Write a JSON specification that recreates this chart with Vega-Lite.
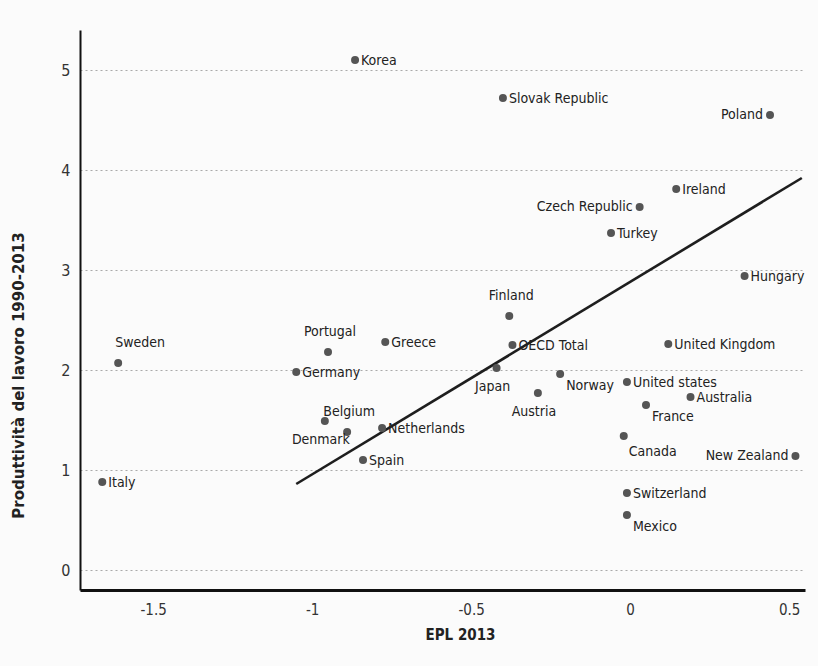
{
  "$schema": "https://vega.github.io/schema/vega-lite/v6.json",
  "autosize": {"type": "none"},
  "width": 725,
  "height": 560,
  "padding": {"left": 80, "top": 30, "right": 13, "bottom": 76},
  "background": "#fbfbfb",
  "config": {
    "view": {"stroke": null},
    "font": "DejaVu Sans Condensed, Liberation Sans Narrow, sans-serif",
    "text": {"font": "DejaVu Sans Condensed, Liberation Sans Narrow, sans-serif"}
  },
  "datasets": {
    "pts": [
      {"country": "Korea", "epl": -0.865, "prod": 5.1},
      {"country": "Slovak Republic", "epl": -0.4, "prod": 4.72},
      {"country": "Poland", "epl": 0.44, "prod": 4.55},
      {"country": "Ireland", "epl": 0.145, "prod": 3.81},
      {"country": "Czech Republic", "epl": 0.03, "prod": 3.63},
      {"country": "Turkey", "epl": -0.06, "prod": 3.37},
      {"country": "Hungary", "epl": 0.36, "prod": 2.94},
      {"country": "Finland", "epl": -0.38, "prod": 2.54},
      {"country": "OECD Total", "epl": -0.37, "prod": 2.25},
      {"country": "United Kingdom", "epl": 0.12, "prod": 2.26},
      {"country": "Portugal", "epl": -0.95, "prod": 2.18},
      {"country": "Greece", "epl": -0.77, "prod": 2.28},
      {"country": "Sweden", "epl": -1.61, "prod": 2.07},
      {"country": "Germany", "epl": -1.05, "prod": 1.98},
      {"country": "Japan", "epl": -0.42, "prod": 2.02},
      {"country": "Norway", "epl": -0.22, "prod": 1.96},
      {"country": "Austria", "epl": -0.29, "prod": 1.77},
      {"country": "United states", "epl": -0.01, "prod": 1.88},
      {"country": "France", "epl": 0.05, "prod": 1.65},
      {"country": "Australia", "epl": 0.19, "prod": 1.73},
      {"country": "Denmark", "epl": -0.96, "prod": 1.49},
      {"country": "Belgium", "epl": -0.89, "prod": 1.38},
      {"country": "Netherlands", "epl": -0.78, "prod": 1.42},
      {"country": "Spain", "epl": -0.84, "prod": 1.1},
      {"country": "Canada", "epl": -0.02, "prod": 1.34},
      {"country": "New Zealand", "epl": 0.52, "prod": 1.14},
      {"country": "Switzerland", "epl": -0.01, "prod": 0.77},
      {"country": "Mexico", "epl": -0.01, "prod": 0.55},
      {"country": "Italy", "epl": -1.66, "prod": 0.88}
    ],
    "fit": [
      {"epl": -1.05, "prod": 0.86},
      {"epl": 0.54, "prod": 3.92}
    ]
  },
  "layer": [
    {
      "data": {"name": "fit"},
      "mark": {"type": "line", "color": "#1e1e1e", "strokeWidth": 2.6},
      "encoding": {
        "x": {
          "field": "epl", "type": "quantitative",
          "scale": {"domain": [-1.73, 0.55], "nice": false, "zero": false},
          "axis": {
            "title": "EPL 2013", "values": [-1.5, -1, -0.5, 0, 0.5],
            "labelExpr": "replace(format(datum.value, '~g'), '−', '-')",
            "grid": false, "ticks": false, "domainColor": "#111", "domainWidth": 3,
            "labelFontSize": 15, "labelColor": "#333", "labelPadding": 12,
            "titleFontSize": 15, "titleColor": "#222", "titleFontWeight": "bold", "titlePadding": 10,
            "titleX": 380,
            "labelFont": "DejaVu Sans Condensed, sans-serif",
            "titleFont": "DejaVu Sans Condensed, sans-serif"
          }
        },
        "y": {
          "field": "prod", "type": "quantitative",
          "scale": {"domain": [-0.2, 5.4], "nice": false, "zero": false},
          "axis": {
            "title": "Produttività del lavoro 1990-2013", "values": [0, 1, 2, 3, 4, 5],
            "format": "d",
            "grid": true, "gridDash": [2, 3], "gridColor": "#aaa", "gridWidth": 1.2,
            "ticks": false, "domainColor": "#111", "domainWidth": 2,
            "labelFontSize": 16, "labelColor": "#333", "labelPadding": 10,
            "titleFontSize": 15, "titleColor": "#222", "titleFontWeight": "bold", "titlePadding": 34,
            "titleY": 345,
            "titleFont": "DejaVu Sans, sans-serif",
            "labelFont": "DejaVu Sans Condensed, sans-serif"
          }
        }
      }
    },
    {
      "data": {"name": "pts"},
      "mark": {"type": "circle", "size": 64, "color": "#555", "opacity": 1},
      "encoding": {
        "x": {"field": "epl", "type": "quantitative"},
        "y": {"field": "prod", "type": "quantitative"}
      }
    },
    {
      "data": {"name": "pts"},
      "transform": [{"filter": {"field": "country", "oneOf": ["Korea", "Slovak Republic", "Ireland", "Turkey", "Hungary", "OECD Total", "United Kingdom", "Greece", "Germany", "United states", "Australia", "Netherlands", "Spain", "Switzerland", "Italy"]}}],
      "mark": {"type": "text", "align": "left", "dx": 6, "dy": 1, "fontSize": 14, "color": "#222"},
      "encoding": {
        "x": {"field": "epl", "type": "quantitative"},
        "y": {"field": "prod", "type": "quantitative"},
        "text": {"field": "country"}
      }
    },
    {
      "data": {"name": "pts"},
      "transform": [{"filter": {"field": "country", "oneOf": ["Norway", "France", "Mexico"]}}],
      "mark": {"type": "text", "align": "left", "dx": 6, "dy": 12, "fontSize": 14, "color": "#222"},
      "encoding": {
        "x": {"field": "epl", "type": "quantitative"},
        "y": {"field": "prod", "type": "quantitative"},
        "text": {"field": "country"}
      }
    },
    {
      "data": {"name": "pts"},
      "transform": [{"filter": {"field": "country", "oneOf": ["Canada"]}}],
      "mark": {"type": "text", "align": "left", "dx": 5, "dy": 16, "fontSize": 14, "color": "#222"},
      "encoding": {
        "x": {"field": "epl", "type": "quantitative"},
        "y": {"field": "prod", "type": "quantitative"},
        "text": {"field": "country"}
      }
    },
    {
      "data": {"name": "pts"},
      "transform": [{"filter": {"field": "country", "oneOf": ["Poland", "Czech Republic", "New Zealand"]}}],
      "mark": {"type": "text", "align": "right", "dx": -7, "dy": 0, "fontSize": 14, "color": "#222"},
      "encoding": {
        "x": {"field": "epl", "type": "quantitative"},
        "y": {"field": "prod", "type": "quantitative"},
        "text": {"field": "country"}
      }
    },
    {
      "data": {"name": "pts"},
      "transform": [{"filter": {"field": "country", "oneOf": ["Finland", "Portugal", "Belgium"]}}],
      "mark": {"type": "text", "align": "center", "dx": 2, "dy": -20, "fontSize": 14, "color": "#222"},
      "encoding": {
        "x": {"field": "epl", "type": "quantitative"},
        "y": {"field": "prod", "type": "quantitative"},
        "text": {"field": "country"}
      }
    },
    {
      "data": {"name": "pts"},
      "transform": [{"filter": {"field": "country", "oneOf": ["Sweden"]}}],
      "mark": {"type": "text", "align": "left", "dx": -3, "dy": -20, "fontSize": 14, "color": "#222"},
      "encoding": {
        "x": {"field": "epl", "type": "quantitative"},
        "y": {"field": "prod", "type": "quantitative"},
        "text": {"field": "country"}
      }
    },
    {
      "data": {"name": "pts"},
      "transform": [{"filter": {"field": "country", "oneOf": ["Japan", "Austria", "Denmark"]}}],
      "mark": {"type": "text", "align": "center", "dx": -4, "dy": 19, "fontSize": 14, "color": "#222"},
      "encoding": {
        "x": {"field": "epl", "type": "quantitative"},
        "y": {"field": "prod", "type": "quantitative"},
        "text": {"field": "country"}
      }
    }
  ]
}
